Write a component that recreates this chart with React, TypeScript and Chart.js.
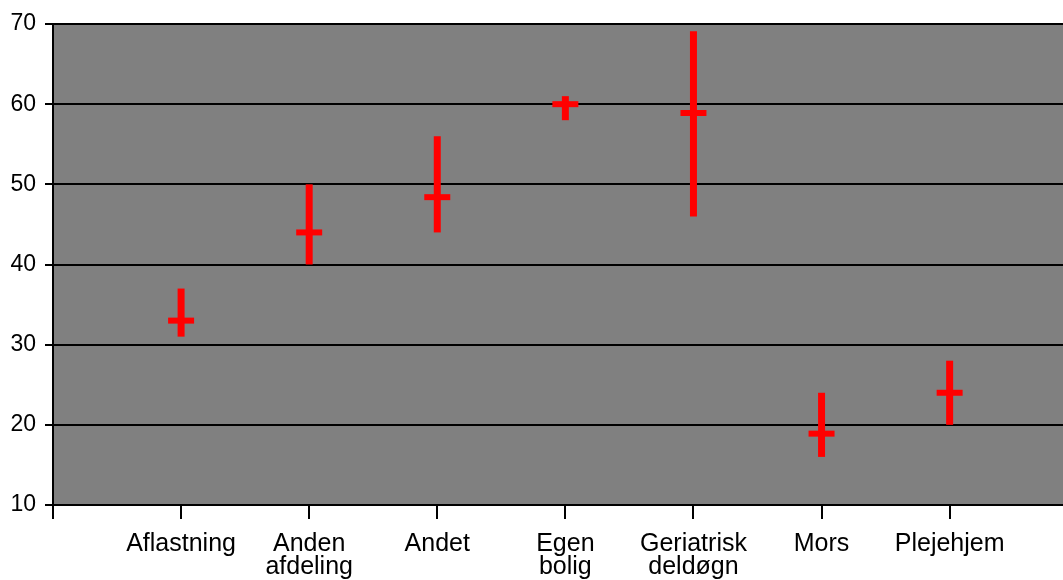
import React, { useEffect, useRef } from "react";
import { Chart, registerables } from "chart.js";

Chart.register(...registerables);

const categories: (string | string[])[] = [
  "Aflastning",
  ["Anden", "afdeling"],
  "Andet",
  ["Egen", "bolig"],
  ["Geriatrisk", "deldøgn"],
  "Mors",
  "Plejehjem",
];
const lowValues = [31, 40, 44, 58, 46, 16, 20];
const highValues = [37, 50, 56, 61, 69.1, 24, 28];
const midValues = [33, 44, 48.4, 60, 58.9, 18.9, 24];
const yTicks = [10, 20, 30, 40, 50, 60, 70];

const RED = "#FF0000";

const bgPlugin = {
  id: "plotBg",
  beforeDraw(chart: any) {
    const { ctx, chartArea } = chart;
    ctx.save();
    ctx.fillStyle = "#808080";
    ctx.fillRect(chartArea.left, chartArea.top, chartArea.right - chartArea.left, chartArea.bottom - chartArea.top);
    ctx.restore();
  },
};

export default function App() {
  const ref = useRef<HTMLCanvasElement | null>(null);
  useEffect(() => {
    if (!ref.current) return;
    const rangeSets = categories.map((_, i) => ({
      type: "line" as const,
      data: [
        { x: i + 1, y: lowValues[i] },
        { x: i + 1, y: highValues[i] },
      ],
      borderColor: RED,
      borderWidth: 7,
      borderCapStyle: "butt" as const,
      pointRadius: 0,
      fill: false,
    }));
    const midSet = {
      type: "scatter" as const,
      data: midValues.map((v, i) => ({ x: i + 1, y: v })),
      pointStyle: "line" as const,
      pointRadius: 13,
      pointBorderWidth: 6,
      pointBorderColor: RED,
      borderColor: RED,
      showLine: false,
    };
    const chart = new Chart(ref.current, {
      type: "line",
      data: { datasets: [...rangeSets, midSet] as any },
      plugins: [bgPlugin],
      options: {
        animation: false,
        responsive: false,
        layout: { autoPadding: false, padding: { top: 24, right: 0, left: 0, bottom: 0 } },
        plugins: { legend: { display: false }, tooltip: { enabled: false } },
        scales: {
          x: {
            type: "linear",
            min: 0,
            max: 7.885,
            afterBuildTicks(scale: any) {
              scale.ticks = [0, 1, 2, 3, 4, 5, 6, 7].map((v) => ({ value: v }));
            },
            afterFit(scale: any) {
              scale.height = 75;
              scale.paddingLeft = 0;
              scale.paddingRight = 0;
            },
            ticks: {
              autoSkip: false,
              maxRotation: 0,
              minRotation: 0,
              padding: 13,
              color: "#000",
              font: { family: "'Liberation Sans', Arial, sans-serif", size: 25, lineHeight: 0.94 },
              callback: (v: any) => (v >= 1 && v <= categories.length ? categories[v - 1] : ""),
            },
            grid: {
              drawOnChartArea: false,
              drawTicks: true,
              tickLength: 14,
              color: "#000",
              lineWidth: 2,
            },
            border: { display: true, color: "#000", width: 2 },
          },
          y: {
            type: "linear",
            min: 10,
            max: 70,
            afterBuildTicks(scale: any) {
              scale.ticks = yTicks.map((v) => ({ value: v }));
            },
            afterFit(scale: any) {
              scale.width = 53;
              scale.paddingTop = 0;
              scale.paddingBottom = 0;
            },
            ticks: {
              padding: 9,
              color: "#000",
              font: { family: "'Liberation Sans', Arial, sans-serif", size: 23 },
            },
            grid: {
              drawOnChartArea: true,
              drawTicks: true,
              tickLength: 8,
              color: "#000",
              lineWidth: 2,
            },
            border: { display: true, color: "#000", width: 2 },
          },
        },
      },
    });
    return () => chart.destroy();
  }, []);
  return (
    <div style={{ position: "absolute", left: 0, top: 0, width: 1063, height: 580, background: "#fff" }}>
      <canvas ref={ref} width={1063} height={580} style={{ display: "block" }} />
    </div>
  );
}
